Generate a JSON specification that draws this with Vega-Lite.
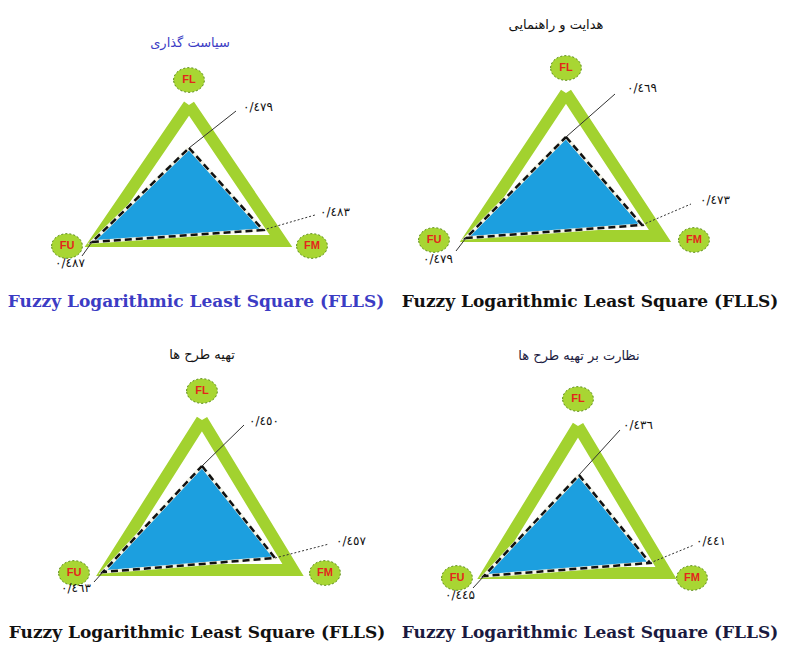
{
  "$schema": "https://vega.github.io/schema/vega-lite/v6.json",
  "width": 787,
  "height": 658,
  "autosize": {"type": "fit", "contains": "padding"},
  "padding": 0,
  "background": "white",
  "config": {"view": {"stroke": null}},
  "datasets": {
    "tri": [
      {"panel": 1, "vertex": "FL", "seq": 1, "gx": 189, "gy": 105, "bx": 189, "by": 148},
      {"panel": 1, "vertex": "FM", "seq": 2, "gx": 281, "gy": 241, "bx": 263, "by": 230},
      {"panel": 1, "vertex": "FU", "seq": 3, "gx": 96, "gy": 241, "bx": 92, "by": 242},
      {"panel": 1, "vertex": "FL", "seq": 4, "gx": 189, "gy": 105, "bx": 189, "by": 148},
      {"panel": 2, "vertex": "FL", "seq": 1, "gx": 566, "gy": 93, "bx": 566, "by": 137},
      {"panel": 2, "vertex": "FM", "seq": 2, "gx": 660, "gy": 236, "bx": 642, "by": 225},
      {"panel": 2, "vertex": "FU", "seq": 3, "gx": 471, "gy": 236, "bx": 466, "by": 238},
      {"panel": 2, "vertex": "FL", "seq": 4, "gx": 566, "gy": 93, "bx": 566, "by": 137},
      {"panel": 3, "vertex": "FL", "seq": 1, "gx": 202, "gy": 420, "bx": 202, "by": 466},
      {"panel": 3, "vertex": "FM", "seq": 2, "gx": 293, "gy": 570, "bx": 275, "by": 558},
      {"panel": 3, "vertex": "FU", "seq": 3, "gx": 107, "gy": 570, "bx": 103, "by": 572},
      {"panel": 3, "vertex": "FL", "seq": 4, "gx": 202, "gy": 420, "bx": 202, "by": 466},
      {"panel": 4, "vertex": "FL", "seq": 1, "gx": 578, "gy": 426, "bx": 579, "by": 475},
      {"panel": 4, "vertex": "FM", "seq": 2, "gx": 666, "gy": 573, "bx": 650, "by": 563},
      {"panel": 4, "vertex": "FU", "seq": 3, "gx": 488, "gy": 573, "bx": 484, "by": 576},
      {"panel": 4, "vertex": "FL", "seq": 4, "gx": 578, "gy": 426, "bx": 579, "by": 475}
    ],
    "nodes": [
      {"panel": 1, "vertex": "FL", "cx": 189, "cy": 80},
      {"panel": 1, "vertex": "FM", "cx": 312, "cy": 246},
      {"panel": 1, "vertex": "FU", "cx": 67, "cy": 246},
      {"panel": 2, "vertex": "FL", "cx": 566, "cy": 68},
      {"panel": 2, "vertex": "FM", "cx": 694, "cy": 240},
      {"panel": 2, "vertex": "FU", "cx": 434, "cy": 240},
      {"panel": 3, "vertex": "FL", "cx": 202, "cy": 391},
      {"panel": 3, "vertex": "FM", "cx": 325, "cy": 573},
      {"panel": 3, "vertex": "FU", "cx": 74, "cy": 573},
      {"panel": 4, "vertex": "FL", "cx": 578, "cy": 399},
      {"panel": 4, "vertex": "FM", "cx": 692, "cy": 578},
      {"panel": 4, "vertex": "FU", "cx": 457, "cy": 578}
    ],
    "labels": [
      {"panel": 1, "vertex": "FL", "value": 0.479, "label": "٠/٤٧٩", "lx": 258, "ly": 107, "ax": 189, "ay": 148, "ex": 236, "ey": 111},
      {"panel": 1, "vertex": "FM", "value": 0.483, "label": "٠/٤٨٣", "lx": 335, "ly": 212, "ax": 263, "ay": 230, "ex": 315, "ey": 215},
      {"panel": 1, "vertex": "FU", "value": 0.487, "label": "٠/٤٨٧", "lx": 70, "ly": 263, "ax": 92, "ay": 242, "ex": 82, "ey": 256},
      {"panel": 2, "vertex": "FL", "value": 0.469, "label": "٠/٤٦٩", "lx": 642, "ly": 88, "ax": 566, "ay": 137, "ex": 615, "ey": 94},
      {"panel": 2, "vertex": "FM", "value": 0.473, "label": "٠/٤٧٣", "lx": 715, "ly": 200, "ax": 642, "ay": 225, "ex": 691, "ey": 204},
      {"panel": 2, "vertex": "FU", "value": 0.479, "label": "٠/٤٧٩", "lx": 438, "ly": 259, "ax": 466, "ay": 238, "ex": 456, "ey": 251},
      {"panel": 3, "vertex": "FL", "value": 0.450, "label": "٠/٤٥٠", "lx": 264, "ly": 421, "ax": 202, "ay": 466, "ex": 244, "ey": 425},
      {"panel": 3, "vertex": "FM", "value": 0.457, "label": "٠/٤٥٧", "lx": 351, "ly": 541, "ax": 275, "ay": 558, "ex": 329, "ey": 544},
      {"panel": 3, "vertex": "FU", "value": 0.463, "label": "٠/٤٦٣", "lx": 76, "ly": 588, "ax": 103, "ay": 572, "ex": 94, "ey": 582},
      {"panel": 4, "vertex": "FL", "value": 0.436, "label": "٠/٤٣٦", "lx": 638, "ly": 425, "ax": 579, "ay": 475, "ex": 620, "ey": 430},
      {"panel": 4, "vertex": "FM", "value": 0.441, "label": "٠/٤٤١", "lx": 711, "ly": 541, "ax": 650, "ay": 563, "ex": 694, "ey": 545},
      {"panel": 4, "vertex": "FU", "value": 0.445, "label": "٠/٤٤۵", "lx": 460, "ly": 595, "ax": 484, "ay": 576, "ex": 473, "ey": 588}
    ],
    "titles": [
      {"panel": 1, "title": "سیاست گذاری", "tx": 190, "ty": 43, "subtitle": "Fuzzy Logarithmic Least Square (FLLS)", "sx": 196, "sy": 302},
      {"panel": 2, "title": "هدایت و راهنمایی", "tx": 556, "ty": 25, "subtitle": "Fuzzy Logarithmic Least Square (FLLS)", "sx": 590, "sy": 302},
      {"panel": 3, "title": "تهیه طرح ها", "tx": 202, "ty": 355, "subtitle": "Fuzzy Logarithmic Least Square (FLLS)", "sx": 197, "sy": 633},
      {"panel": 4, "title": "نظارت بر تهیه طرح ها", "tx": 579, "ty": 356, "subtitle": "Fuzzy Logarithmic Least Square (FLLS)", "sx": 590, "sy": 633}
    ]
  },
  "layer": [
    {
      "data": {"name": "tri"},
      "mark": {"type": "line", "stroke": "#a2d22f", "strokeWidth": 12, "strokeJoin": "miter", "strokeMiterLimit": 10},
      "encoding": {
        "x": {"field": "gx", "type": "quantitative", "scale": {"domain": [0, 787], "nice": false, "zero": false}, "axis": null},
        "y": {"field": "gy", "type": "quantitative", "scale": {"domain": [0, 658], "reverse": true, "nice": false, "zero": false}, "axis": null},
        "detail": {"field": "panel"},
        "order": {"field": "seq"}
      }
    },
    {
      "data": {"name": "tri"},
      "mark": {"type": "line", "fill": "#1c9fdf", "stroke": "#f4f4e8", "strokeWidth": 3.5, "strokeJoin": "miter"},
      "encoding": {
        "x": {"field": "bx", "type": "quantitative"},
        "y": {"field": "by", "type": "quantitative"},
        "detail": {"field": "panel"},
        "order": {"field": "seq"}
      }
    },
    {
      "data": {"name": "tri"},
      "mark": {"type": "line", "stroke": "#111111", "strokeWidth": 2.5, "strokeDash": [7, 4], "strokeJoin": "miter"},
      "encoding": {
        "x": {"field": "bx", "type": "quantitative"},
        "y": {"field": "by", "type": "quantitative"},
        "detail": {"field": "panel"},
        "order": {"field": "seq"}
      }
    },
    {
      "data": {"name": "labels"},
      "transform": [{"filter": "datum.vertex !== 'FM'"}],
      "mark": {"type": "rule", "stroke": "#333333", "strokeWidth": 1},
      "encoding": {
        "x": {"field": "ax", "type": "quantitative"},
        "y": {"field": "ay", "type": "quantitative"},
        "x2": {"field": "ex"},
        "y2": {"field": "ey"}
      }
    },
    {
      "data": {"name": "labels"},
      "transform": [{"filter": "datum.vertex === 'FM'"}],
      "mark": {"type": "rule", "stroke": "#333333", "strokeWidth": 1, "strokeDash": [2, 2]},
      "encoding": {
        "x": {"field": "ax", "type": "quantitative"},
        "y": {"field": "ay", "type": "quantitative"},
        "x2": {"field": "ex"},
        "y2": {"field": "ey"}
      }
    },
    {
      "data": {"name": "nodes"},
      "mark": {"type": "point", "filled": true, "shape": "M-1,0A1,0.8,0,1,1,1,0A1,0.8,0,1,1,-1,0Z", "size": 950, "fill": "#a8d633", "stroke": "#5e8f1c", "strokeWidth": 1, "strokeDash": [2, 2], "opacity": 1, "fillOpacity": 1},
      "encoding": {
        "x": {"field": "cx", "type": "quantitative"},
        "y": {"field": "cy", "type": "quantitative"}
      }
    },
    {
      "data": {"name": "nodes"},
      "mark": {"type": "text", "font": "Liberation Sans", "fontSize": 11, "fontWeight": "bold", "fill": "#e3261c", "align": "center", "baseline": "middle"},
      "encoding": {
        "x": {"field": "cx", "type": "quantitative"},
        "y": {"field": "cy", "type": "quantitative"},
        "text": {"field": "vertex"}
      }
    },
    {
      "data": {"name": "labels"},
      "mark": {"type": "text", "font": "DejaVu Sans", "fontSize": 12, "fill": "#111111", "align": "center", "baseline": "middle"},
      "encoding": {
        "x": {"field": "lx", "type": "quantitative"},
        "y": {"field": "ly", "type": "quantitative"},
        "text": {"field": "label"}
      }
    },
    {
      "data": {"name": "titles"},
      "mark": {"type": "text", "font": "DejaVu Sans", "fontSize": 13, "align": "center", "baseline": "middle"},
      "encoding": {
        "x": {"field": "tx", "type": "quantitative"},
        "y": {"field": "ty", "type": "quantitative"},
        "text": {"field": "title"},
        "color": {"field": "panel", "type": "nominal", "scale": {"domain": [1, 2, 3, 4], "range": ["#3c3cc4", "#111111", "#111111", "#1a1a40"]}, "legend": null}
      }
    },
    {
      "data": {"name": "titles"},
      "mark": {"type": "text", "font": "DejaVu Serif", "fontSize": 17, "fontWeight": "bold", "align": "center", "baseline": "middle"},
      "encoding": {
        "x": {"field": "sx", "type": "quantitative"},
        "y": {"field": "sy", "type": "quantitative"},
        "text": {"field": "subtitle"},
        "color": {"field": "panel", "type": "nominal", "scale": {"domain": [1, 2, 3, 4], "range": ["#4a4aa6", "#2a2a78", "#222266", "#3a3a70"]}, "legend": null}
      }
    }
  ]
}
